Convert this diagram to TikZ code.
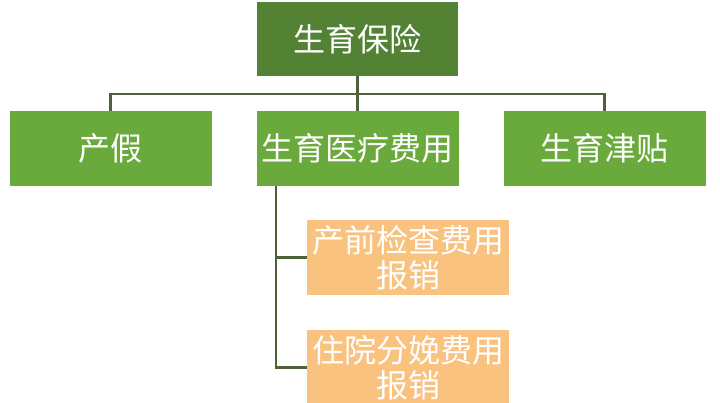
\documentclass[tikz,border=0pt]{standalone}
\usepackage{fontspec}
\newfontfamily\cjk{Noto Sans CJK SC}
\definecolor{topgreen}{HTML}{548235}
\definecolor{midgreen}{HTML}{6AA93C}
\definecolor{boxorange}{HTML}{F9C27E}
\definecolor{linecol}{HTML}{4D6239}
\tikzset{
  box/.style={rectangle, inner sep=0pt, minimum width=202pt, minimum height=75pt, text=white, font=\cjk\fontsize{32}{35}\selectfont, align=center},
  topbox/.style={box, fill=topgreen, minimum width=201pt, minimum height=74pt},
  greenbox/.style={box, fill=midgreen},
  orangebox/.style={box, fill=boxorange},
  conn/.style={draw=linecol, line width=2.2pt}
}
\begin{document}
\begin{tikzpicture}[x=1pt,y=-1pt]
\useasboundingbox (0,0) rectangle (720,403);
\fill[white] (0,0) rectangle (720,403);
\begin{scope}
\clip (0,0) rectangle (720,403);
\node[topbox] (top) at (357.5,39) {生育保险};
\node[greenbox] (a) at (110.5,148.5) {产假};
\node[greenbox] (b) at (357.5,148.5) {生育医疗费用};
\node[greenbox] (c) at (604.5,148.5) {生育津贴};
\node[orangebox] (o1) at (408,257.5) {产前检查费用\\报销};
\node[orangebox] (o2) at (408,367.5) {住院分娩费用\\报销};
\coordinate (hub) at (357.5,94);
\coordinate (sp) at (276,186);
\draw[conn] (top.south) -- (b.north);
\draw[conn] (a.north) |- (hub) -| (c.north);
\draw[conn] (sp) |- (o1.west);
\draw[conn] (sp) |- (o2.west);
\end{scope}
\end{tikzpicture}
\end{document}
